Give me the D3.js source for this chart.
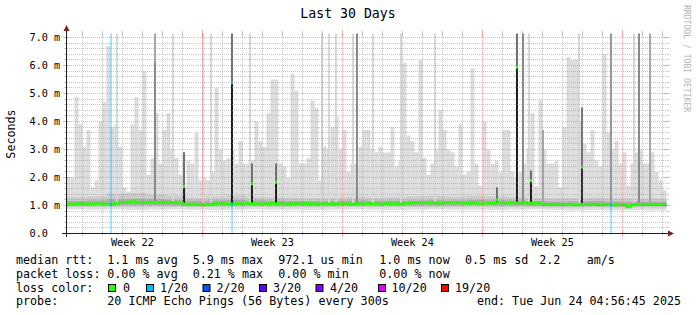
<!DOCTYPE html>
<html>
<head>
<meta charset="utf-8">
<script src="https://cdn.jsdelivr.net/npm/d3@7"></script>
<style>
  body { margin: 0; background: #fff; }
  text { font-family: "DejaVu Sans Mono", monospace; }
</style>
</head>
<body>
<svg id="chart" width="697" height="315"></svg>
<script>
// time span of the graph
var endTime = new Date(Date.UTC(2025, 5, 24, 4, 56, 45));
var spanDays = 30;
var binDays = 0.2;

// highest ping per 4.8 h bin, ms
var smokeMax = [
  2.0, 2.0, 4.87, 3.9, 3.1, 3.7, 1.65, 1.9, 4.0, 4.7,
  6.7, 3.8, 3.9, 3.1, 1.65, 1.5, 3.9, 4.87, 3.7, 5.8,
  2.1, 2.7, 4.3, 2.5, 3.7, 4.3, 3.0, 2.7, 2.1, 1.7,
  2.6, 2.5, 3.6, 1.9, 2.0, 1.9, 2.2, 5.2, 3.0, 2.6,
  2.7, 3.0, 2.5, 3.3, 2.5, 2.5, 2.6, 4.0, 3.3, 3.1,
  4.3, 5.5, 5.5, 2.5, 2.4, 2.0, 5.7, 5.1, 2.5, 2.5,
  2.7, 4.75, 4.5, 1.9, 3.1, 3.0, 3.8, 4.2, 3.0, 3.7,
  2.2, 2.5, 2.5, 3.1, 3.7, 3.7, 3.0, 2.9, 3.1, 2.9,
  2.9, 3.8, 2.4, 2.6, 6.1, 3.5, 3.3, 2.9, 6.2, 2.7,
  2.1, 2.5, 3.0, 4.4, 3.7, 3.0, 2.9, 2.4, 3.9, 2.1,
  2.2, 5.9, 2.5, 1.7, 4.0, 3.0, 2.5, 2.6, 2.2, 3.7,
  3.7, 2.2, 2.0, 2.2, 2.5, 3.0, 4.3, 1.7, 4.75, 3.0,
  2.5, 2.5, 2.6, 1.65, 3.8, 6.3, 6.2, 6.2, 4.0, 3.2,
  2.9, 3.7, 2.6, 2.4, 6.4, 3.6, 3.0, 3.3, 2.5, 2.9,
  1.7, 2.5, 2.9, 3.0, 2.5, 2.5, 2.9, 2.2, 1.9, 1.55
];

// median rtt per 4.8 h bin, ms
var medianRtt = [
  1.06, 1.05, 1.06, 1.07, 1.06, 1.05, 1.06, 1.06, 1.07, 1.06, 1.05, 1.04,
  1.08, 1.10, 1.11, 1.12, 1.14, 1.12, 1.11, 1.10, 1.12, 1.11, 1.10, 1.11, 1.12, 1.10, 1.11, 1.10, 1.09,
  1.05, 1.04, 1.05, 1.03, 1.04, 1.02, 1.04, 1.05,
  1.07, 1.06, 1.07, 1.06, 1.05, 1.07, 1.06, 1.07, 1.08, 1.06, 1.07, 1.05, 1.06, 1.07, 1.08, 1.06, 1.07, 1.06, 1.05,
  1.07, 1.06, 1.07, 1.08, 1.06, 1.07, 1.05, 1.06, 1.07, 1.06, 1.05, 1.07, 1.06, 1.07, 1.06,
  1.04, 1.06, 1.07, 1.06, 1.07, 1.06, 1.07, 1.05, 1.06, 1.07, 1.06, 1.07, 1.06, 1.07, 1.08,
  1.09, 1.10, 1.09, 1.10, 1.09, 1.10, 1.09, 1.08, 1.09, 1.10, 1.09, 1.10, 1.09, 1.08, 1.07, 1.09, 1.08,
  1.06, 1.07, 1.09, 1.08, 1.09, 1.10, 1.09, 1.08, 1.09, 1.10, 1.09, 1.08, 1.09, 1.08, 1.09, 1.07,
  1.04, 1.03, 1.04, 1.03, 1.04, 1.03, 1.04, 1.03, 1.02, 1.03, 1.04, 1.03, 1.04, 1.03, 1.02, 1.03,
  1.04, 1.03, 1.02, 1.03, 1.03,
  0.95,
  1.02, 1.03, 1.04, 1.03, 1.04, 1.03, 1.04, 1.03, 1.04
];

// daily spread of the pings, ms
var smokeMin = [0.86, 0.85, 0.86, 0.84, 0.85, 0.86, 0.85, 0.84, 0.85, 0.86, 0.85, 0.85, 0.84, 0.85, 0.86,
                0.85, 0.84, 0.85, 0.86, 0.85, 0.85, 0.84, 0.85, 0.86, 0.84, 0.83, 0.84, 0.83, 0.84, 0.83];
var smokeP10 = [0.94, 0.94, 0.95, 0.94, 0.95, 0.95, 0.93, 0.94, 0.94, 0.95, 0.94, 0.94, 0.93, 0.94, 0.95,
                0.94, 0.94, 0.95, 0.94, 0.94, 0.95, 0.94, 0.94, 0.93, 0.92, 0.92, 0.93, 0.92, 0.92, 0.92];
var smokeP25 = [1.00, 1.00, 1.02, 1.02, 1.02, 1.01, 0.99, 1.00, 1.00, 1.01, 1.00, 1.00, 0.99, 1.00, 1.00,
                1.00, 1.00, 1.01, 1.01, 1.01, 1.02, 1.01, 1.01, 0.99, 0.98, 0.98, 0.98, 0.97, 0.98, 0.98];
var smokeP75 = [1.16, 1.18, 1.22, 1.24, 1.22, 1.20, 1.17, 1.18, 1.20, 1.18, 1.17, 1.16, 1.16, 1.17, 1.18,
                1.17, 1.17, 1.18, 1.19, 1.18, 1.20, 1.19, 1.18, 1.16, 1.14, 1.15, 1.16, 1.14, 1.14, 1.14];
var smokeP90 = [1.30, 1.32, 1.42, 1.45, 1.38, 1.34, 1.28, 1.32, 1.36, 1.30, 1.29, 1.28, 1.27, 1.28, 1.31,
                1.28, 1.29, 1.32, 1.34, 1.31, 1.34, 1.32, 1.30, 1.27, 1.26, 1.27, 1.28, 1.25, 1.24, 1.24];

// narrow smoke spikes: [day from start, top ms, pings that were high]
var smokeSpikes = [
  [2.525, 7.2, 1], [4.425, 7.2, 3], [4.425, 6.1, 5], [5.325, 7.2, 1], [6.8, 7.2, 1],
  [7.225, 7.2, 1], [9.175, 7.2, 1], [12.775, 7.2, 1], [13.125, 7.2, 1], [13.475, 7.2, 1],
  [14.325, 7.2, 1], [14.5, 7.2, 5], [15.325, 7.2, 1], [16.725, 7.2, 1], [18.425, 7.2, 1],
  [22.825, 7.2, 5], [23.1, 7.2, 1], [23.825, 3.7, 3], [25.625, 7.2, 1], [27.225, 7.2, 4],
  [28.35, 7.2, 1], [28.625, 7.2, 5], [29.175, 7.2, 3]
];

// bins where the median itself jumped: [day, median ms, top of dense smoke ms, lost pings]
var medianSpikes = [
  [5.85, 1.68, 2.9, 0], [8.275, 5.38, 7.2, 1], [9.25, 1.77, 2.5, 0], [10.45, 1.83, 2.5, 0],
  [21.525, 1.2, 1.65, 0], [22.525, 5.94, 7.2, 0], [23.2, 1.89, 2.25, 0], [25.775, 2.37, 4.5, 0]
];

// packet loss bars: [day, lost pings, from ms, to ms]
var lossBars = [[2.225, 1, 0, 7.2], [8.275, 1, 0, 1.05], [27.225, 1, 0, 1.0]];

var lossCounts = [0, 1, 2, 3, 4, 10, 19];
var lossLabels = ["0", "1/20", "2/20", "3/20", "4/20", "10/20", "19/20"];
var lossColors = ["#26ff00", "#00b8ff", "#0059ff", "#5e00ff", "#7e00ff", "#dd00ff", "#ff0000"];

var yTickValues = [0, 1, 2, 3, 4, 5, 6, 7];
var yTickLabels = ["0.0", "1.0 m", "2.0 m", "3.0 m", "4.0 m", "5.0 m", "6.0 m", "7.0 m"];

// legend rows, one list of pieces per row
var legendRows = [
  ["median rtt:", "1.1 ms avg", "5.9 ms max", "972.1 us min", "1.0 ms now", "0.5 ms sd", "2.2", "am/s"],
  ["packet loss:", "0.00 % avg", "0.21 % max", "0.00 % min", "0.00 % now"],
  ["loss color:"],
  ["probe:", "20 ICMP Echo Pings (56 Bytes) every 300s"]
];
var endLabel = "end: Tue Jun 24 04:56:45 2025";

var startTime = new Date(endTime.getTime() - spanDays * 864e5);
function dayT(d) { return new Date(startTime.getTime() + d * 864e5); }

var svg = d3.select("#chart");

var x = d3.scaleUtc().domain([startTime, endTime]).range([66.5, 666.5]);
var y = d3.scaleLinear().domain([0, 200 / 28]).range([233.5, 33.5]).clamp(true);
var lossColor = d3.scaleOrdinal().domain(lossCounts).range(lossColors);
var spikeShade = d3.scaleLinear().domain([1, 3, 5]).range(["#d8d8d8", "#a8a8a8", "#8a8a8a"]);

var plot = svg.append("g");

// outer smoke: min .. max
plot.selectAll("rect.outer")
  .data(smokeMax)
  .enter()
  .append("rect")
  .attr("x", (d, i) => x(dayT(i * binDays)))
  .attr("width", (d, i) => x(dayT((i + 1) * binDays)) - x(dayT(i * binDays)))
  .attr("y", d => y(d))
  .attr("height", (d, i) => y(smokeMin[Math.floor(i * binDays)]) - y(d))
  .attr("fill", "#dcdcdc");

// inner smoke bands per day
function band(lo, hi, color) {
  plot.selectAll(null)
    .data(d3.range(spanDays))
    .enter()
    .append("rect")
    .attr("x", d => x(dayT(d)))
    .attr("width", d => x(dayT(d + 1)) - x(dayT(d)))
    .attr("y", d => y(hi[d]))
    .attr("height", d => y(lo[d]) - y(hi[d]))
    .attr("fill", color);
}
band(smokeP10, smokeP90, "#cbcbcb");
band(smokeP25, smokeP75, "#acacac");

// narrow spikes
plot.selectAll("rect.spike")
  .data(smokeSpikes)
  .enter()
  .append("rect")
  .attr("x", d => Math.round(x(dayT(d[0]))) - 1)
  .attr("width", 2)
  .attr("y", d => y(d[1]))
  .attr("height", d => y(1.1) - y(d[1]))
  .attr("fill", d => spikeShade(d[2]));

// loss bars
plot.selectAll("rect.loss")
  .data(lossBars)
  .enter()
  .append("rect")
  .attr("x", d => Math.round(x(dayT(d[0]))) - 1)
  .attr("width", 2)
  .attr("y", d => y(d[3]))
  .attr("height", d => y(d[2]) - y(d[3]))
  .attr("fill", d => lossColor(d[1]))
  .attr("opacity", 0.35);

// median spikes: dense smoke column
medianSpikes.forEach(function(d) {
  var cx = Math.round(x(dayT(d[0]))) - 1;
  plot.append("rect").attr("x", cx).attr("width", 2)
    .attr("y", y(d[2])).attr("height", y(d[1]) - y(d[2])).attr("fill", "#707070");
  plot.append("rect").attr("x", cx).attr("width", 2)
    .attr("y", y(d[1])).attr("height", y(1.05) - y(d[1])).attr("fill", "#1c1c1c");
});

// median line
var medPts = medianRtt.map((v, i) => [x(dayT(i * binDays)), y(v)]);
medPts.push([x(dayT(medianRtt.length * binDays)), y(medianRtt[medianRtt.length - 1])]);
plot.append("path")
  .attr("d", d3.line().curve(d3.curveStepAfter)(medPts))
  .attr("fill", "none")
  .attr("stroke", lossColor(0))
  .attr("stroke-width", 2.6);

// median points with loss
lossBars.forEach(function(d) {
  var i = Math.floor(d[0] / binDays);
  plot.append("rect")
    .attr("x", Math.round(x(dayT(d[0]))) - 1).attr("width", 2)
    .attr("y", y(medianRtt[i]) - 1.5).attr("height", 3)
    .attr("fill", lossColor(d[1]));
});
medianSpikes.forEach(function(d) {
  plot.append("rect")
    .attr("x", Math.round(x(dayT(d[0]))) - 1).attr("width", 2)
    .attr("y", y(d[1]) - 1.5).attr("height", 3)
    .attr("fill", lossColor(d[3]));
});

// grid
var grid = svg.append("g").attr("shape-rendering", "crispEdges");
var minorColor = "rgba(143,143,143,0.5)";
var majorColor = "rgba(222,79,79,0.45)";
var hMinor = d3.range(1, 36).map(k => k / 5).filter(v => Math.abs(v - Math.round(v)) > 0.01);
hMinor.forEach(function(v) {
  var yy = Math.round(y(v) - 0.5) + 0.5;
  grid.append("line").attr("x1", 66.5).attr("x2", 666.5).attr("y1", yy).attr("y2", yy)
    .attr("stroke", minorColor).attr("stroke-dasharray", "1,1");
  grid.append("line").attr("x1", 64).attr("x2", 66).attr("y1", yy).attr("y2", yy).attr("stroke", minorColor);
  grid.append("line").attr("x1", 667).attr("x2", 669).attr("y1", yy).attr("y2", yy).attr("stroke", minorColor);
});
yTickValues.slice(1).forEach(function(v) {
  var yy = Math.round(y(v) - 0.5) + 0.5;
  grid.append("line").attr("x1", 66.5).attr("x2", 666.5).attr("y1", yy).attr("y2", yy)
    .attr("stroke", majorColor).attr("stroke-dasharray", "1,1");
  grid.append("line").attr("x1", 63).attr("x2", 69).attr("y1", yy).attr("y2", yy).attr("stroke", majorColor);
  grid.append("line").attr("x1", 664).attr("x2", 670).attr("y1", yy).attr("y2", yy).attr("stroke", majorColor);
});
d3.utcDay.range(startTime, endTime).forEach(function(t) {
  var xx = Math.round(x(t) - 0.5) + 0.5;
  var major = t.getUTCDay() === 0;
  var c = major ? majorColor : minorColor;
  grid.append("line").attr("x1", xx).attr("x2", xx).attr("y1", 33.5).attr("y2", 233)
    .attr("stroke", c).attr("stroke-dasharray", "1,1");
  grid.append("line").attr("x1", xx).attr("x2", xx).attr("y1", major ? 230 : 231).attr("y2", major ? 237 : 236).attr("stroke", c);
  grid.append("line").attr("x1", xx).attr("x2", xx).attr("y1", major ? 30 : 31).attr("y2", major ? 37 : 36).attr("stroke", c);
});

// axes
svg.append("line").attr("x1", 62).attr("x2", 670).attr("y1", 233.5).attr("y2", 233.5).attr("stroke", "#1f1f1f");
svg.append("line").attr("x1", 66.5).attr("x2", 66.5).attr("y1", 237).attr("y2", 30).attr("stroke", "#1f1f1f");
svg.append("path").attr("d", "M668,230.5 L674,233.5 L668,236.5 Z").attr("fill", "#801f1f");
svg.append("path").attr("d", "M63.5,31 L66.5,25 L69.5,31 Z").attr("fill", "#801f1f");

// y labels
svg.selectAll("text.ylab")
  .data(yTickValues)
  .enter()
  .append("text")
  .attr("x", 29.5)
  .attr("y", d => y(d) + 3.5)
  .attr("font-size", "10.2px")
  .text((d, i) => yTickLabels[i]);

// week labels, centred on each week
var weeks = d3.utcSunday.range(d3.utcSunday.floor(startTime), endTime)
  .map(t => new Date(t.getTime() + 3.5 * 864e5))
  .filter(t => t < endTime);
svg.selectAll("text.xlab")
  .data(weeks)
  .enter()
  .append("text")
  .attr("x", d => x(d))
  .attr("y", 246)
  .attr("text-anchor", "middle")
  .attr("font-size", "10.2px")
  .text(d => "Week " + d3.utcFormat("%V")(d));

// titles
svg.append("text").attr("x", 348).attr("y", 18).attr("text-anchor", "middle")
  .attr("font-size", "13.2px").text("Last 30 Days");
svg.append("text").attr("transform", "translate(15,134) rotate(-90)").attr("text-anchor", "middle")
  .attr("font-size", "11.7px").text("Seconds");
svg.append("text").attr("transform", "translate(684,5) rotate(90)")
  .attr("font-size", "8.1px").attr("fill", "#b4b4b4").text("RRDTOOL / TOBI OETIKER");

// legend
var legendY = [264, 278, 291.5, 305];
var legendColX = [16, 107.3, 192.7, 278.3, 379.3, 465, 539.3, 586.7];
legendRows.forEach(function(row, r) {
  svg.selectAll(null)
    .data(row)
    .enter()
    .append("text")
    .attr("x", (d, i) => legendColX[i])
    .attr("y", legendY[r])
    .attr("font-size", "11.7px")
    .text(d => d);
});
svg.append("text").attr("x", 681).attr("y", legendY[3]).attr("text-anchor", "end")
  .attr("font-size", "11.7px").text(endLabel);

var swatchX = [108.5, 146.5, 203, 259.5, 316, 378.5, 441.5];
var labelX = [123, 160, 216.5, 273, 330, 391.5, 455];
lossCounts.forEach(function(c, i) {
  svg.append("rect").attr("x", swatchX[i]).attr("y", 284.5).attr("width", 7).attr("height", 7)
    .attr("fill", lossColor(c)).attr("stroke", "#000");
  svg.append("text").attr("x", labelX[i]).attr("y", legendY[2]).attr("font-size", "11.7px").text(lossLabels[i]);
});
</script>
</body>
</html>
